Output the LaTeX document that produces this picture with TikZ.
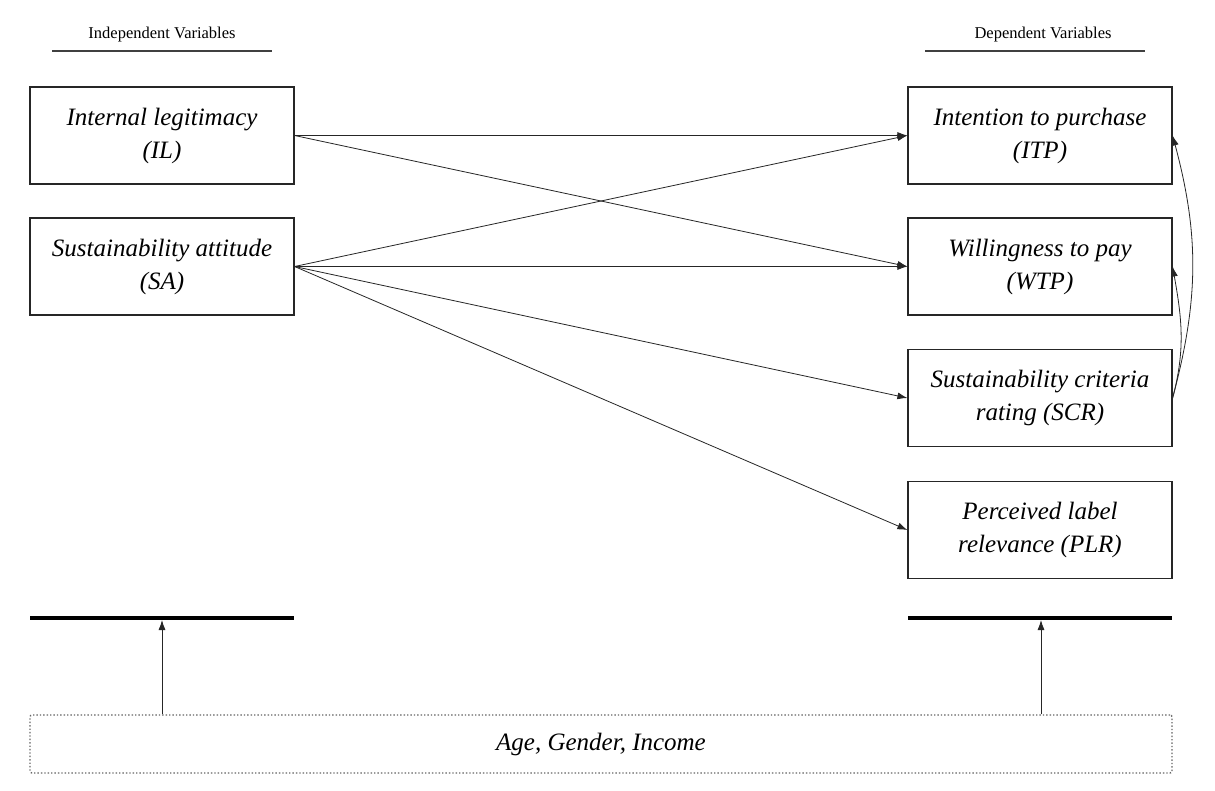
\documentclass[tikz,border=0pt]{standalone}
\usepackage{fontspec}
\setmainfont{Liberation Serif}
\usetikzlibrary{arrows.meta}
\begin{document}
\begin{tikzpicture}[x=1pt,y=-1pt,
  varbox/.style={draw=black!85,line width=1.2pt,minimum width=264pt,minimum height=97pt,inner sep=0pt,align=center,font=\fontsize{25}{33}\selectfont\itshape},
  header/.style={font=\fontsize{16.5}{19}\selectfont},
  rule/.style={draw=black!75,line width=1.2pt},
  bar/.style={line width=4pt},
  arr/.style={draw=black!85,line width=0.8pt,-{Latex[length=10pt,width=7pt]}},
  ctrlbox/.style={draw=black!60,dotted,line width=1.4pt,rounded corners=2pt,minimum width=1142pt,minimum height=58pt,inner sep=0pt,font=\fontsize{25}{33}\selectfont\itshape}]
\useasboundingbox (0,0) rectangle (1215,790);
\fill[white] (0,0) rectangle (1215,790);
% headers
\node[header] (hIV) at (162,35) {Independent Variables};
\node[header] (hDV) at (1043,35) {Dependent Variables};
\draw[rule] (52,51) -- (272,51);
\draw[rule] (925,51) -- (1145,51);
% independent
\node[varbox] (IL) at (162,135.5) {Internal legitimacy\\(IL)};
\node[varbox] (SA) at (162,266.5) {Sustainability attitude\\(SA)};
% dependent
\node[varbox] (ITP) at (1040,135.5) {Intention to purchase\\(ITP)};
\node[varbox] (WTP) at (1040,266.5) {Willingness to pay\\(WTP)};
\node[varbox] (SCR) at (1040,398) {Sustainability criteria\\rating (SCR)};
\node[varbox] (PLR) at (1040,530) {Perceived label\\relevance (PLR)};
% arrows
\draw[arr] (IL.east) -- (ITP.west);
\draw[arr] (IL.east) -- (WTP.west);
\draw[arr] (SA.east) -- (ITP.west);
\draw[arr] (SA.east) -- (WTP.west);
\draw[arr] (SA.east) -- (SCR.west);
\draw[arr] (SA.east) -- (PLR.west);
\draw[arr] (SCR.east) to[out=75,in=-75] (ITP.east);
\draw[arr] (SCR.east) to[out=75,in=-80] (WTP.east);
% moderator bars
\coordinate (barLa) at (30,618);
\coordinate (barLb) at (294,618);
\coordinate (barRa) at (908,618);
\coordinate (barRb) at (1172,618);
\coordinate (barL) at (162,620);
\coordinate (barR) at (1041,620);
\draw[bar] (barLa) -- (barLb);
\draw[bar] (barRa) -- (barRb);
% control box
\node[ctrlbox] (CTRL) at (601,744) {Age, Gender, Income};
\draw[arr] (CTRL.north -| barL) -- (barL);
\draw[arr] (CTRL.north -| barR) -- (barR);
\end{tikzpicture}
\end{document}
